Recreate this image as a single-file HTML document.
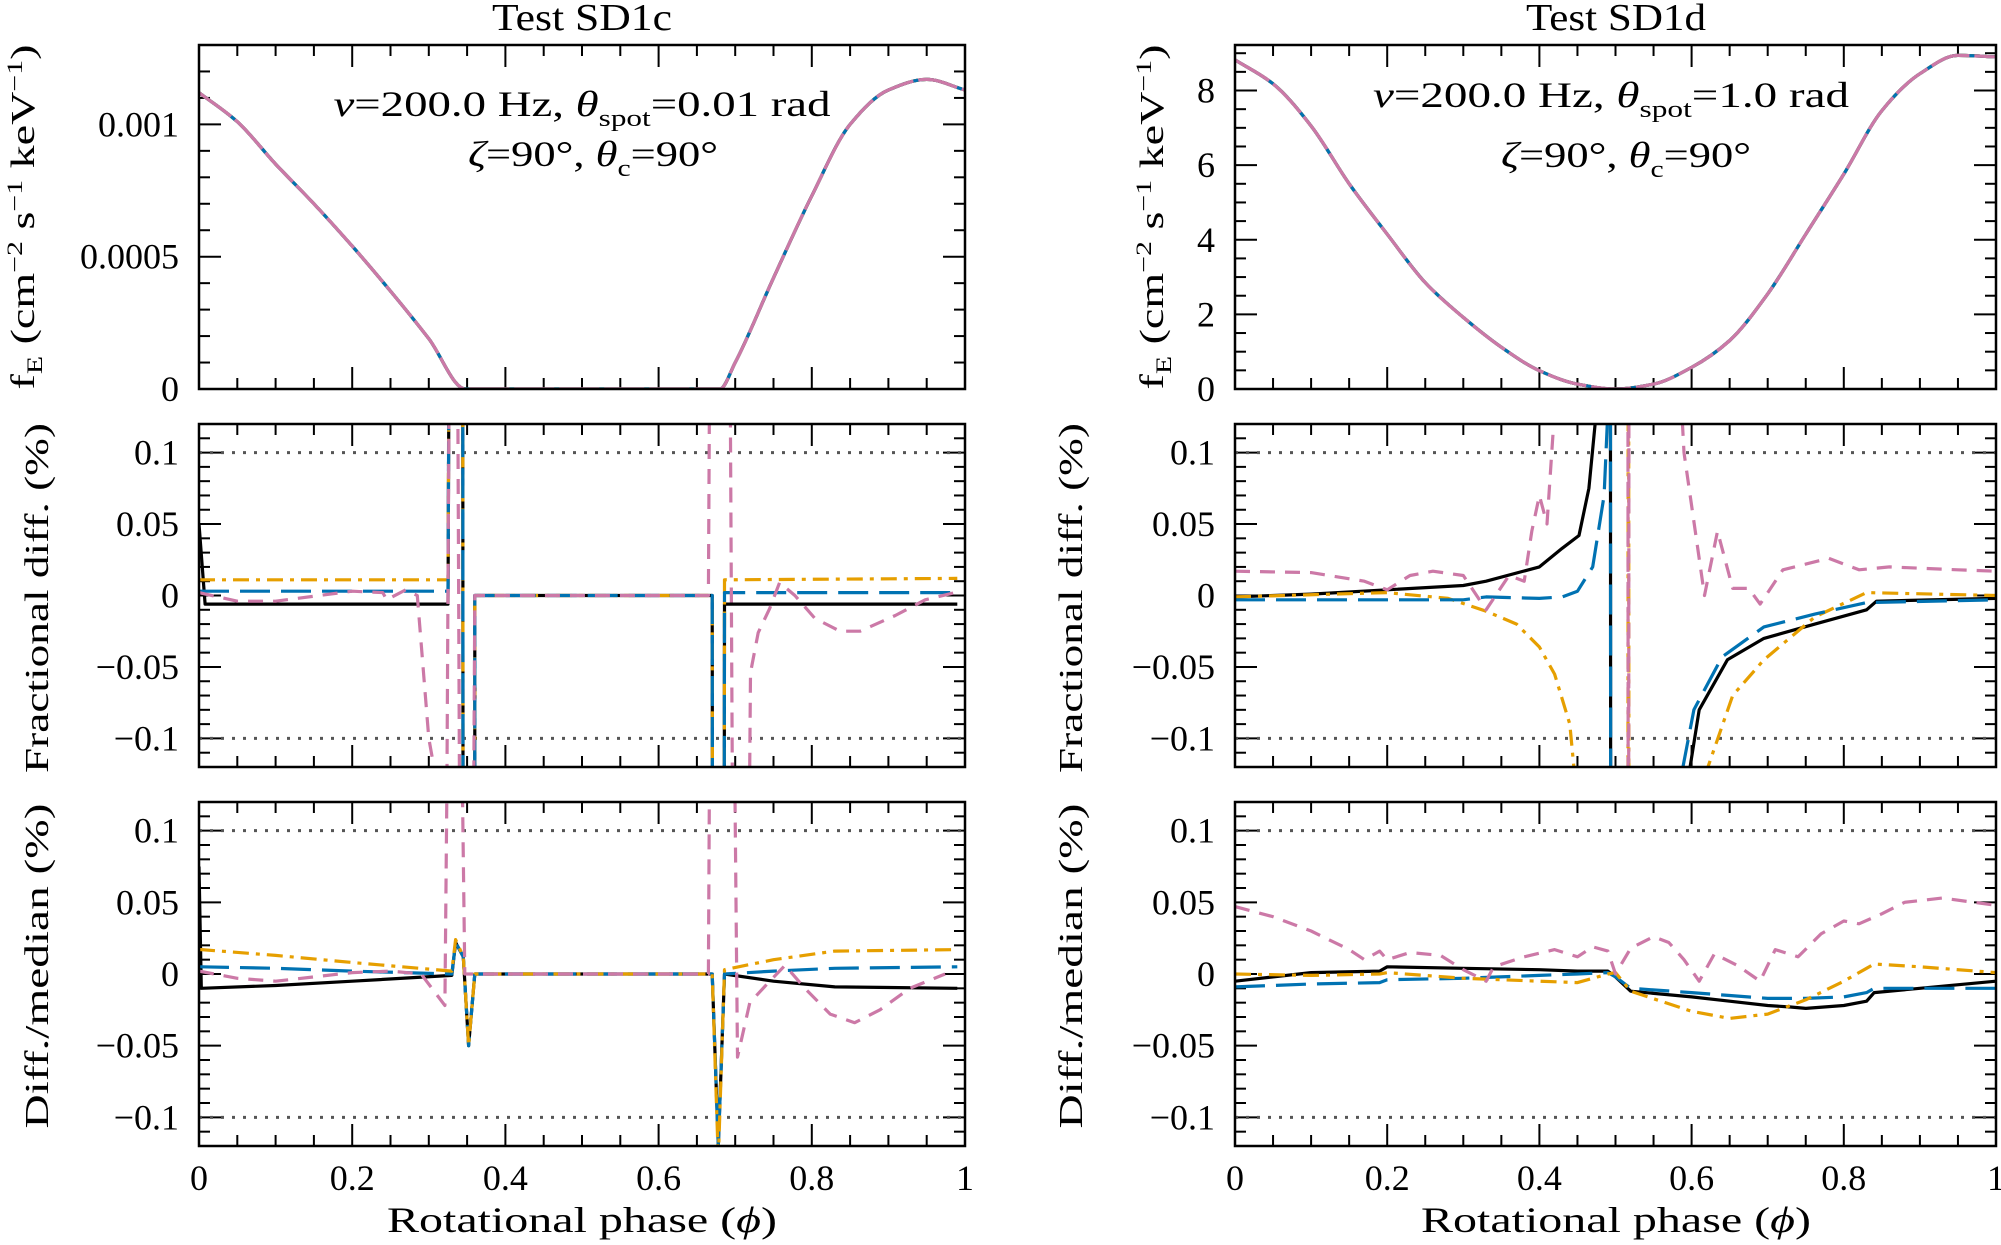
<!DOCTYPE html>
<html><head><meta charset="utf-8"><style>
html,body{margin:0;padding:0;background:#fff;width:2001px;height:1245px;overflow:hidden;position:relative;}
svg{display:block;position:absolute;left:0;top:0;}
text{font-family:"Liberation Serif",serif;fill:#000;}
</style></head><body>
<svg id="fig" xmlns="http://www.w3.org/2000/svg" width="2001" height="1245" viewBox="0 0 2001 1245" overflow="hidden">
<text x="582" y="30" font-size="38" text-anchor="middle" textLength="180" lengthAdjust="spacingAndGlyphs">Test SD1c</text>
<text x="1616" y="30" font-size="38" text-anchor="middle" textLength="180" lengthAdjust="spacingAndGlyphs">Test SD1d</text>
<text x="582" y="116" font-size="36" text-anchor="middle" textLength="497" lengthAdjust="spacingAndGlyphs"><tspan font-style="italic">ν</tspan>=200.0 Hz, <tspan font-style="italic">θ</tspan><tspan font-size="24" dy="10">spot</tspan><tspan dy="-10">=0.01 rad</tspan></text>
<text x="593" y="166" font-size="36" text-anchor="middle" textLength="250" lengthAdjust="spacingAndGlyphs"><tspan font-style="italic">ζ</tspan>=90°, <tspan font-style="italic">θ</tspan><tspan font-size="24" dy="10">c</tspan><tspan dy="-10">=90°</tspan></text>
<text x="1611" y="107" font-size="36" text-anchor="middle" textLength="476" lengthAdjust="spacingAndGlyphs"><tspan font-style="italic">ν</tspan>=200.0 Hz, <tspan font-style="italic">θ</tspan><tspan font-size="24" dy="10">spot</tspan><tspan dy="-10">=1.0 rad</tspan></text>
<text x="1626" y="167" font-size="36" text-anchor="middle" textLength="250" lengthAdjust="spacingAndGlyphs"><tspan font-style="italic">ζ</tspan>=90°, <tspan font-style="italic">θ</tspan><tspan font-size="24" dy="10">c</tspan><tspan dy="-10">=90°</tspan></text>
<text transform="translate(34,217) rotate(-90)" font-size="34" text-anchor="middle" textLength="345" lengthAdjust="spacingAndGlyphs">f<tspan font-size="22" dy="8">E</tspan><tspan dy="-8"> (cm</tspan><tspan font-size="22" dy="-12">−2</tspan><tspan dy="12"> s</tspan><tspan font-size="22" dy="-12">−1</tspan><tspan dy="12"> keV</tspan><tspan font-size="22" dy="-12">−1</tspan><tspan dy="12">)</tspan></text>
<text transform="translate(1163,217) rotate(-90)" font-size="34" text-anchor="middle" textLength="345" lengthAdjust="spacingAndGlyphs">f<tspan font-size="22" dy="8">E</tspan><tspan dy="-8"> (cm</tspan><tspan font-size="22" dy="-12">−2</tspan><tspan dy="12"> s</tspan><tspan font-size="22" dy="-12">−1</tspan><tspan dy="12"> keV</tspan><tspan font-size="22" dy="-12">−1</tspan><tspan dy="12">)</tspan></text>
<text transform="translate(48,598) rotate(-90)" font-size="34" text-anchor="middle" textLength="350" lengthAdjust="spacingAndGlyphs">Fractional diff. (%)</text>
<text transform="translate(1082,598) rotate(-90)" font-size="34" text-anchor="middle" textLength="350" lengthAdjust="spacingAndGlyphs">Fractional diff. (%)</text>
<text transform="translate(48,966) rotate(-90)" font-size="34" text-anchor="middle" textLength="325" lengthAdjust="spacingAndGlyphs">Diff./median (%)</text>
<text transform="translate(1082,966) rotate(-90)" font-size="34" text-anchor="middle" textLength="325" lengthAdjust="spacingAndGlyphs">Diff./median (%)</text>
<text x="582" y="1232" font-size="36" text-anchor="middle" textLength="390" lengthAdjust="spacingAndGlyphs">Rotational phase (<tspan font-style="italic">ϕ</tspan>)</text>
<text x="1616" y="1232" font-size="36" text-anchor="middle" textLength="390" lengthAdjust="spacingAndGlyphs">Rotational phase (<tspan font-style="italic">ϕ</tspan>)</text>
</svg>
<script>
// ---------- data ----------
const tlPhase = [0,0.05,0.1,0.15,0.2,0.25,0.3,0.348,0.4,0.5,0.6,0.68,0.7,0.75,0.8,0.85,0.9,0.95,1];
const tlFlux = [0.00112,0.00101,0.00085,0.00070,0.00054,0.00037,0.00019,0,0,0,0,0,0.0001,0.00042,0.00073,0.001,0.00113,0.00117,0.00113];
const trPhase = [0,0.05,0.1,0.15,0.2,0.25,0.3,0.35,0.4,0.45,0.5,0.55,0.6,0.65,0.7,0.75,0.8,0.85,0.9,0.95,1];
const trFlux = [8.82,8.18,7.05,5.5,4.15,2.85,1.92,1.12,0.49,0.13,0,0.13,0.58,1.3,2.55,4.15,5.76,7.46,8.45,8.94,8.9];

const mlPhase = [0,0.008,0.325,0.329,0.344,0.345,0.36,0.3601,0.67,0.671,0.685,0.686,0.99];
const mlBlack = [0.05,-0.006,-0.006,0.5,0.5,-0.5,-0.5,0,0,-0.5,-0.5,-0.006,-0.006];
const mlBlue = [0.003,0.003,0.003,0.5,0.5,-0.5,-0.5,0,0,-0.5,-0.5,0.002,0.002];
const mlOrange = [0.011,0.011,0.011,0.5,0.5,-0.5,-0.5,0,0,-0.5,-0.5,0.011,0.012];
const mlPinkPhase = [0,0.05,0.1,0.2,0.24,0.245,0.27,0.285,0.3,0.31,0.32,0.33,0.335,0.343,0.355,0.36,0.665,0.67,0.69,0.7,0.713,0.72,0.73,0.745,0.758,0.778,0.804,0.837,0.863,0.909,0.948,0.987];
const mlPink = [0.002,-0.004,-0.004,0.003,0.002,-0.003,0.004,0,-0.1,-0.13,-0.5,0.5,0.5,-0.5,-0.5,0,0,0.5,0.5,-0.5,-0.5,-0.054,-0.026,-0.009,0.009,0,-0.016,-0.025,-0.025,-0.014,-0.003,0.002];

const blPhase = [0,0.003,0.1,0.2,0.33,0.335,0.345,0.352,0.36,0.67,0.678,0.686,0.75,0.83,0.99];
const blBlack = [0.075,-0.01,-0.008,-0.005,-0.001,0.022,0.012,-0.05,0,0,-0.12,0,-0.005,-0.009,-0.01];
const blBlue = [0.005,0.005,0.004,0.002,0.0,0.022,0.012,-0.05,0,0,-0.12,0,0.002,0.004,0.005];
const blOrange = [0.017,0.017,0.013,0.008,0.002,0.024,0.012,-0.05,0,0,-0.13,0.003,0.01,0.016,0.017];
const blPinkPhase = [0,0.05,0.1,0.2,0.25,0.29,0.321,0.33,0.335,0.347,0.36,0.665,0.67,0.693,0.703,0.719,0.745,0.765,0.791,0.824,0.856,0.889,0.928,0.974];
const blPink = [0.002,-0.003,-0.005,0.001,0.002,0,-0.022,0.5,0.5,0,0,0,0.5,0.5,-0.058,-0.02,-0.005,0.006,-0.01,-0.028,-0.034,-0.025,-0.01,0];

const mrBlackPhase = [0,0.1,0.2,0.3,0.33,0.4,0.43,0.452,0.465,0.475,0.493,0.494,0.595,0.61,0.647,0.695,0.762,0.83,0.843,1];
const mrBlack = [-0.001,0.001,0.004,0.007,0.01,0.02,0.033,0.042,0.075,0.13,0.5,-0.5,-0.13,-0.08,-0.045,-0.03,-0.02,-0.01,-0.004,-0.002];
const mrBluePhase = [0,0.3,0.33,0.4,0.43,0.45,0.47,0.485,0.49,0.493,0.494,0.585,0.603,0.64,0.695,0.762,0.83,1];
const mrBlue = [-0.003,-0.003,-0.001,-0.002,-0.001,0.003,0.02,0.07,0.13,0.5,-0.5,-0.13,-0.08,-0.043,-0.022,-0.013,-0.005,-0.003];
const mrOrangePhase = [0,0.2,0.28,0.33,0.37,0.4,0.42,0.44,0.447,0.516,0.517,0.518,0.61,0.615,0.654,0.695,0.762,0.83,1];
const mrOrange = [-0.001,0.002,-0.002,-0.011,-0.02,-0.036,-0.055,-0.09,-0.13,-0.5,0.5,-0.5,-0.5,-0.13,-0.07,-0.045,-0.015,0.002,0.0];
const mrPinkPhase = [0,0.1,0.17,0.2,0.23,0.26,0.3,0.33,0.36,0.38,0.39,0.4,0.41,0.42,0.516,0.517,0.518,0.587,0.59,0.617,0.634,0.654,0.675,0.69,0.72,0.75,0.78,0.82,0.86,0.95,1];
const mrPink = [0.017,0.016,0.01,0.004,0.014,0.017,0.014,-0.01,0.014,0.01,0.045,0.07,0.05,0.13,0.5,-0.5,0.5,0.13,0.1,0.0,0.045,0.005,0.005,-0.006,0.018,0.022,0.026,0.018,0.02,0.018,0.017];

const brPhase = [0,0.1,0.19,0.2,0.3,0.4,0.45,0.49,0.5,0.52,0.6,0.65,0.7,0.73,0.75,0.8,0.83,0.84,0.9,1.0];
const brBlack = [-0.005,0.001,0.002,0.005,0.004,0.003,0.002,0.002,-0.002,-0.012,-0.016,-0.019,-0.022,-0.023,-0.024,-0.022,-0.019,-0.013,-0.01,-0.005];
const brBlue = [-0.009,-0.007,-0.006,-0.004,-0.003,-0.001,0,0.001,-0.002,-0.01,-0.013,-0.015,-0.017,-0.017,-0.017,-0.016,-0.013,-0.01,-0.01,-0.01];
const brOrange = [0,-0.001,0.0,0.001,-0.003,-0.005,-0.006,0.0,0.001,-0.012,-0.026,-0.031,-0.028,-0.022,-0.018,-0.005,0.004,0.007,0.005,0.001];
const brPinkPhase = [0,0.05,0.1,0.15,0.17,0.19,0.2,0.23,0.27,0.3,0.33,0.34,0.38,0.42,0.45,0.47,0.49,0.5,0.52,0.55,0.57,0.59,0.61,0.63,0.66,0.69,0.71,0.74,0.77,0.8,0.82,0.85,0.88,0.93,0.97,1.0];
const brPink = [0.047,0.04,0.03,0.017,0.01,0.016,0.01,0.015,0.013,0.003,-0.005,0.005,0.012,0.017,0.012,0.019,0.016,0,0.018,0.026,0.022,0.01,-0.005,0.014,0.006,-0.005,0.017,0.012,0.028,0.037,0.035,0.042,0.05,0.053,0.05,0.048];

const diffTicks = [-0.1,-0.05,0,0.05,0.1];
const diffTickLabels = ["−0.1","−0.05","0","0.05","0.1"];
const tlTicks = [0,0.0005,0.001];
const tlTickLabels = ["0","0.0005","0.001"];
const trTicks = [0,2,4,6,8];
const trTickLabels = ["0","2","4","6","8"];
const xTicks = [0,0.2,0.4,0.6,0.8,1];
const xTickLabels = ["0","0.2","0.4","0.6","0.8","1"];

// ---------- drawing ----------
const NS = "http://www.w3.org/2000/svg";
const svg = document.getElementById("fig");
const COL = {black:"#000000", blue:"#0072B2", orange:"#E69F00", pink:"#CC79A7"};
const DASH = {black:"", blue:"30,11", orange:"16,7,4,7", pink:"15,10"};

function mk(tag, attrs, parent){
  const e = document.createElementNS(NS, tag);
  for (const k in attrs) e.setAttribute(k, attrs[k]);
  (parent||svg).appendChild(e);
  return e;
}

function panel(name, x0, x1, y0, y1, ymin, ymax, yMajor, yMinor, yTicks, yLabels, showX){
  const g = mk("g", {});
  
  
  const sx = p => x0 + p*(x1-x0);
  const sy = v => y1 - (v-ymin)/(ymax-ymin)*(y1-y0);
  const cid = "clip-"+name;
  const cp = mk("clipPath", {id:cid}, g);
  mk("rect", {x:x0, y:y0, width:x1-x0, height:y1-y0}, cp);
  for (let i=0;i<=20;i++){
    const p=i*0.05, X=sx(p), L=(i%4===0)?22:11;
    const t1 = mk("line",{x1:X,y1:y1,x2:X,y2:y1-L,stroke:"#000","stroke-width":2},g);
    
    
    const t2 = mk("line",{x1:X,y1:y0,x2:X,y2:y0+L,stroke:"#000","stroke-width":2},g);
    
    
  }
  const start = Math.ceil(ymin/yMinor - 1e-6);
  for (let k=start; k*yMinor<=ymax+1e-12; k++){
    const v=k*yMinor, Y=sy(v);
    const isMaj = Math.abs(v/yMajor - Math.round(v/yMajor))<1e-6;
    const L = isMaj?22:11;
    const a = mk("line",{x1:x0,y1:Y,x2:x0+L,y2:Y,stroke:"#000","stroke-width":2},g);
    
    
    const b = mk("line",{x1:x1,y1:Y,x2:x1-L,y2:Y,stroke:"#000","stroke-width":2},g);
    
    
  }
  yTicks.forEach((v,i)=>{
    const t = mk("text",{x:x0-20,y:sy(v)+12,"font-size":36,"text-anchor":"end"},g);
    t.textContent = yLabels[i];
    
    
  });
  if (showX){
    xTicks.forEach((p,i)=>{
      const t = mk("text",{x:sx(p),y:y1+44,"font-size":36,"text-anchor":"middle"},g);
      t.textContent = xTickLabels[i];
      
      
    });
  }
  const plot = mk("g",{"clip-path":"url(#"+cid+")"},g);
  return {g, plot, sx, sy, x0, x1, y0, y1};
}

function refLine(P, v){
  const l = mk("line",{x1:P.x0,x2:P.x1,y1:P.sy(v),y2:P.sy(v),stroke:"#555","stroke-width":3,"stroke-dasharray":"3,8"},P.plot);
  
  
}

function monotonePath(pts){
  const n = pts.length;
  const dx=[], dy=[], m=[];
  for (let i=0;i<n-1;i++){ dx[i]=pts[i+1][0]-pts[i][0]; dy[i]=pts[i+1][1]-pts[i][1]; m[i]=dy[i]/dx[i]; }
  const t=[m[0]];
  for (let i=1;i<n-1;i++){
    if (m[i-1]*m[i]<=0) t[i]=0;
    else { const w1=2*dx[i]+dx[i-1], w2=dx[i]+2*dx[i-1]; t[i]=(w1+w2)/(w1/m[i-1]+w2/m[i]); }
  }
  t[n-1]=m[n-2];
  let d="M"+pts[0][0].toFixed(1)+","+pts[0][1].toFixed(1);
  for (let i=0;i<n-1;i++){
    const h=dx[i];
    d+=" C"+(pts[i][0]+h/3).toFixed(1)+","+(pts[i][1]+t[i]*h/3).toFixed(1)+" "+(pts[i+1][0]-h/3).toFixed(1)+","+(pts[i+1][1]-t[i+1]*h/3).toFixed(1)+" "+pts[i+1][0].toFixed(1)+","+pts[i+1][1].toFixed(1);
  }
  return d;
}

function series(P, phases, vals, col, name, dashOverride, smooth){
  const pts = phases.map((p,i)=>[P.sx(p), P.sy(vals[i])]);
  const d = smooth ? monotonePath(pts) : pts.map((q,i)=>(i?"L":"M")+q[0].toFixed(1)+","+q[1].toFixed(1)).join(" ");
  const dash = dashOverride!==undefined ? dashOverride : DASH[col];
  const a = {d:d, fill:"none", stroke:COL[col], "stroke-width":3.2, "stroke-linejoin":"round"};
  if (dash) a["stroke-dasharray"]=dash;
  const path = mk("path", a, P.plot);
  
  
}

function frame(P){
  const r = mk("rect",{x:P.x0,y:P.y0,width:P.x1-P.x0,height:P.y1-P.y0,fill:"none",stroke:"#000","stroke-width":2.5},P.g);
  
  
}

const LX0=199, LX1=965, RX0=1235, RX1=1996;
const TY=[45,389], MY=[424,767], BY=[802,1146];

let P = panel("flux-panel-sd1c", LX0,LX1,TY[0],TY[1], 0,0.0013, 0.0005,0.0001, tlTicks, tlTickLabels, false);
series(P, tlPhase, tlFlux, "black", "flux-line-black", "", true);
series(P, tlPhase, tlFlux, "orange", "flux-line-orange", "", true);
series(P, tlPhase, tlFlux, "blue", "flux-line-blue", "", true);
series(P, tlPhase, tlFlux, "pink", "flux-line-pink", "40,5", true);
frame(P);
P = panel("flux-panel-sd1d", RX0,RX1,TY[0],TY[1], 0,9.22, 2,0.5, trTicks, trTickLabels, false);
series(P, trPhase, trFlux, "black", "flux-line-black", "", true);
series(P, trPhase, trFlux, "orange", "flux-line-orange", "", true);
series(P, trPhase, trFlux, "blue", "flux-line-blue", "", true);
series(P, trPhase, trFlux, "pink", "flux-line-pink", "40,5", true);
frame(P);
P = panel("fracdiff-panel-sd1c", LX0,LX1,MY[0],MY[1], -0.12,0.12, 0.05,0.01, diffTicks, diffTickLabels, false);
refLine(P,0.1); refLine(P,-0.1);
series(P, mlPhase, mlBlack, "black", "fracdiff-line-black");
series(P, mlPhase, mlOrange, "orange", "fracdiff-line-orange");
series(P, mlPhase, mlBlue, "blue", "fracdiff-line-blue");
series(P, mlPinkPhase, mlPink, "pink", "fracdiff-line-pink");
frame(P);
P = panel("fracdiff-panel-sd1d", RX0,RX1,MY[0],MY[1], -0.12,0.12, 0.05,0.01, diffTicks, diffTickLabels, false);
refLine(P,0.1); refLine(P,-0.1);
series(P, mrBlackPhase, mrBlack, "black", "fracdiff-line-black");
series(P, mrOrangePhase, mrOrange, "orange", "fracdiff-line-orange");
series(P, mrBluePhase, mrBlue, "blue", "fracdiff-line-blue");
series(P, mrPinkPhase, mrPink, "pink", "fracdiff-line-pink");
frame(P);
P = panel("diffmedian-panel-sd1c", LX0,LX1,BY[0],BY[1], -0.12,0.12, 0.05,0.01, diffTicks, diffTickLabels, true);
refLine(P,0.1); refLine(P,-0.1);
series(P, blPhase, blBlack, "black", "diffmedian-line-black");
series(P, blPhase, blBlue, "blue", "diffmedian-line-blue");
series(P, blPhase, blOrange, "orange", "diffmedian-line-orange");
series(P, blPinkPhase, blPink, "pink", "diffmedian-line-pink");
frame(P);
P = panel("diffmedian-panel-sd1d", RX0,RX1,BY[0],BY[1], -0.12,0.12, 0.05,0.01, diffTicks, diffTickLabels, true);
refLine(P,0.1); refLine(P,-0.1);
series(P, brPhase, brBlack, "black", "diffmedian-line-black");
series(P, brPhase, brBlue, "blue", "diffmedian-line-blue");
series(P, brPhase, brOrange, "orange", "diffmedian-line-orange");
series(P, brPinkPhase, brPink, "pink", "diffmedian-line-pink");
frame(P);
</script>
</body></html>
